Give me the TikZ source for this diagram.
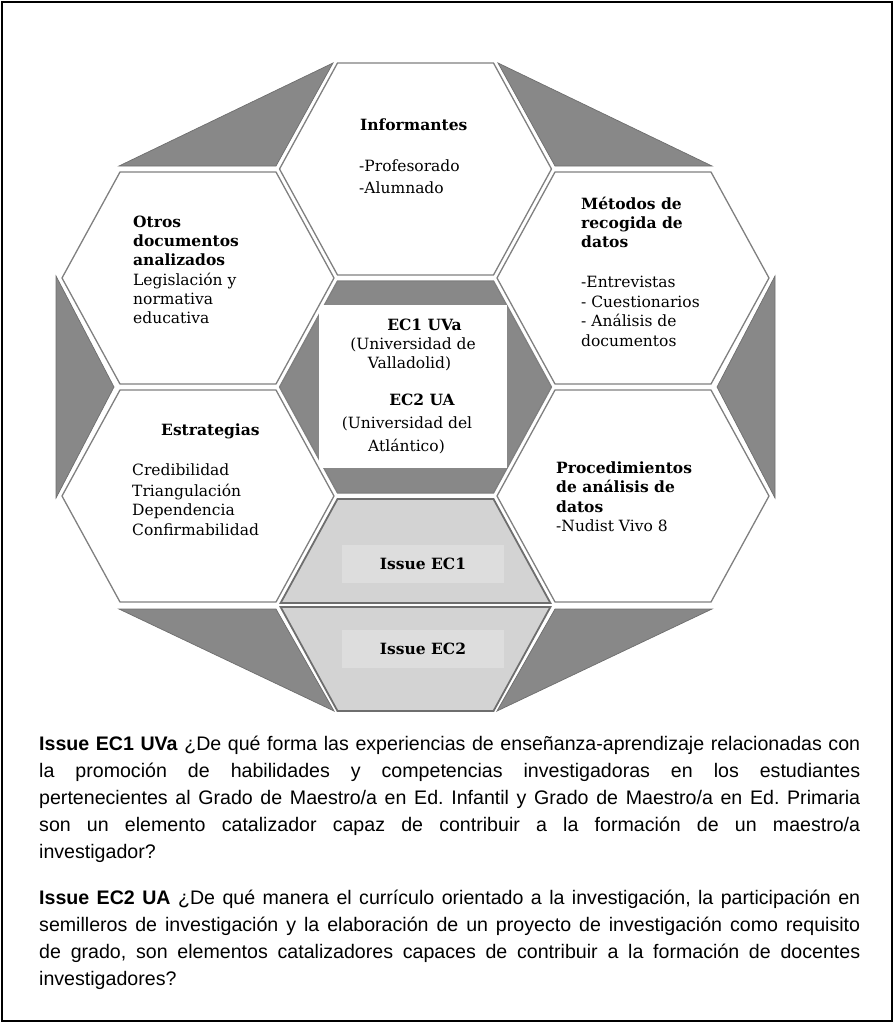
\documentclass[tikz,border=0pt]{standalone}
\usepackage{fontspec}
\setmainfont{DejaVu Serif}
\newfontfamily\parafont{Liberation Sans}
\definecolor{ballgray}{HTML}{888888}
\definecolor{balledge}{HTML}{6E6E6E}
\definecolor{rimgray}{HTML}{808080}
\definecolor{issuegray}{HTML}{D3D3D3}
\definecolor{issuebox}{HTML}{DDDDDD}
\tikzset{
  cell/.style={fill=white, draw=rimgray, line width=1.3pt, line join=miter},
  wedge/.style={fill=ballgray, draw=balledge, line width=0.7pt},
  half/.style={fill=issuegray, draw=balledge, line width=1.8pt, line join=miter},
  lbl/.style={inner sep=0pt, font=\fontsize{15.5}{19.5}\selectfont},
  blbl/.style={inner sep=0pt, font=\fontsize{15.5}{19.5}\selectfont\bfseries},
}

\begin{document}
\begin{tikzpicture}[x=1pt, y=-1pt]

\useasboundingbox (0,0) rectangle (894,1023);

% Frame
\draw[black, line width=1.3pt] (2,2) rectangle (892,1021);

% Dark wedges around the ball
\draw[wedge] (333,63) -- (276,166) -- (119,166) -- cycle;
\draw[wedge] (498,63) -- (555,166) -- (712,166) -- cycle;
\draw[wedge] (56,276) -- (114,387) -- (56,498) -- cycle;
\draw[wedge] (775,276) -- (717,387) -- (775,498) -- cycle;
\draw[wedge] (119,609) -- (276,609) -- (334,711) -- cycle;
\draw[wedge] (712,609) -- (555,609) -- (497,711) -- cycle;

% Center hexagon
\draw[cell, fill=ballgray] (337.5,281) -- (493.5,281) -- (551.5,387) -- (493.5,493) -- (337.5,493) -- (279.5,387) -- cycle;
\fill[white] (319,305) rectangle (507,468);

% Top hexagon: Informantes
\draw[cell] (337.5,63) -- (493.5,63) -- (551.5,169) -- (493.5,275) -- (337.5,275) -- (279.5,169) -- cycle;

% Upper left hexagon: Otros documentos
\draw[cell] (120,172) -- (276,172) -- (334,278) -- (276,384) -- (120,384) -- (62,278) -- cycle;

% Upper right hexagon: Metodos
\draw[cell] (555,172) -- (711,172) -- (769,278) -- (711,384) -- (555,384) -- (497,278) -- cycle;

% Lower left hexagon: Estrategias
\draw[cell] (120,390) -- (276,390) -- (334,496) -- (276,602) -- (120,602) -- (62,496) -- cycle;

% Lower right hexagon: Procedimientos
\draw[cell] (555,390) -- (711,390) -- (769,496) -- (711,602) -- (555,602) -- (497,496) -- cycle;

% Bottom hexagon, split in two halves
\draw[half] (337.5,499) -- (493.5,499) -- (550.4,603) -- (280.6,603) -- cycle;
\draw[half] (280.6,607) -- (550.4,607) -- (493.5,711) -- (337.5,711) -- cycle;
\node[blbl, fill=issuebox, minimum width=162pt, minimum height=38pt] (ec1box) at (423,564) {Issue EC1};
\node[blbl, fill=issuebox, minimum width=162pt, minimum height=38pt] (ec2box) at (423,649) {Issue EC2};

% Informantes
\node[blbl, anchor=base west] (inf1) at (360,130.5) {Informantes};
\node[lbl, anchor=base west] (inf2) at (359,171.5) {-Profesorado};
\node[lbl, anchor=base west] (inf3) at (359,193.5) {-Alumnado};

% Otros documentos
\node[blbl, anchor=base west] (otr1) at (133,227.5) {Otros};
\node[blbl, anchor=base west] (otr2) at (133,246.5) {documentos};
\node[blbl, anchor=base west] (otr3) at (133,265.5) {analizados};
\node[lbl, anchor=base west] (otr4) at (133,285) {Legislación y};
\node[lbl, anchor=base west] (otr5) at (133,304) {normativa};
\node[lbl, anchor=base west] (otr6) at (133,323) {educativa};

% Metodos de recogida
\node[blbl, anchor=base west] (met1) at (581,209.5) {Métodos de};
\node[blbl, anchor=base west] (met2) at (581,228.5) {recogida de};
\node[blbl, anchor=base west] (met3) at (581,247.5) {datos};
\node[lbl, anchor=base west] (met4) at (581,287.5) {-Entrevistas};
\node[lbl, anchor=base west] (met5) at (581,307) {- Cuestionarios};
\node[lbl, anchor=base west] (met6) at (581,326.5) {- Análisis de};
\node[lbl, anchor=base west] (met7) at (581,346) {documentos};

% Cases in the centre
\node[blbl, anchor=base] (cas1) at (424.5,330) {EC1 UVa};
\node[lbl, anchor=base] (cas2) at (413,349) {(Universidad de};
\node[lbl, anchor=base] (cas3) at (409.5,368) {Valladolid)};
\node[blbl, anchor=base] (cas4) at (422,405.5) {EC2 UA};
\node[lbl, anchor=base] (cas5) at (407,428.5) {(Universidad del};
\node[lbl, anchor=base] (cas6) at (406.5,451) {Atlántico)};

% Estrategias
\node[blbl, anchor=base west] (est1) at (161,435.5) {Estrategias};
\node[lbl, anchor=base west] (est2) at (132,475.5) {Credibilidad};
\node[lbl, anchor=base west] (est3) at (132,496.5) {Triangulación};
\node[lbl, anchor=base west] (est4) at (132,515.5) {Dependencia};
\node[lbl, anchor=base west] (est5) at (132,535.5) {Confirmabilidad};

% Procedimientos
\node[blbl, anchor=base west] (pro1) at (556,473.5) {Procedimientos};
\node[blbl, anchor=base west] (pro2) at (556,492.5) {de análisis de};
\node[blbl, anchor=base west] (pro3) at (556,512.5) {datos};
\node[lbl, anchor=base west] (pro4) at (556,531.5) {-Nudist Vivo 8};

% Issues below the ball
\node[anchor=base west, inner sep=0pt] (issues) at (39,750) {\begin{minipage}[t]{821pt}
\parafont\fontsize{19.6}{27}\selectfont\frenchspacing
\hyphenpenalty=10000 \exhyphenpenalty=10000 \tolerance=9999
\textbf{Issue EC1 UVa} ¿De qué forma las experiencias de enseñanza-aprendizaje relacionadas con\linebreak
la promoción de habilidades y competencias investigadoras en los estudiantes\linebreak
pertenecientes al Grado de Maestro/a en Ed. Infantil y Grado de Maestro/a en Ed. Primaria\linebreak
son un elemento catalizador capaz de contribuir a la formación de un maestro/a\linebreak
investigador?\par
\vspace{19pt}
\textbf{Issue EC2 UA} ¿De qué manera el currículo orientado a la investigación, la participación en\linebreak
semilleros de investigación y la elaboración de un proyecto de investigación como requisito\linebreak
de grado, son elementos catalizadores capaces de contribuir a la formación de docentes\linebreak
investigadores?\par
\end{minipage}};

\end{tikzpicture}
\end{document}
